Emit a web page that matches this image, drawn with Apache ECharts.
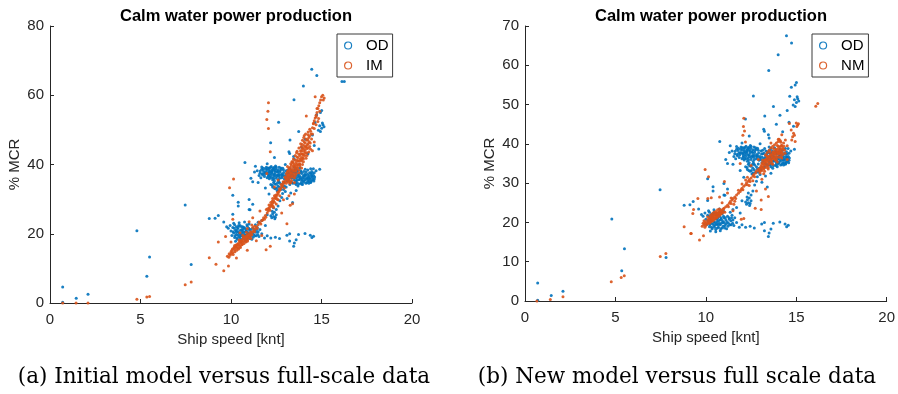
<!DOCTYPE html>
<html>
<head>
<meta charset="utf-8">
<script src="https://cdn.jsdelivr.net/npm/echarts@6/dist/echarts.min.js"></script>
<style>
  html, body { margin: 0; padding: 0; background: #fff; }
  #chart { width: 898px; height: 394px; }
</style>
</head>
<body>
<div id="chart"></div>
<script>
// ---------------- DATA ----------------
const titleText = 'Calm water power production';
const xName = 'Ship speed [knt]';
const yName = '% MCR';
const captions = ['(a) Initial model versus full-scale data', '(b) New model versus full scale data'];
const xTicks = [0, 5, 10, 15, 20];
const yTicksLeft = [0, 20, 40, 60, 80];
const yTicksRight = [0, 10, 20, 30, 40, 50, 60, 70];

// Operational (full-scale) data, same in both panels: [speed knt, %MCR]
const odPoints = [
  [0.7,4.6],[0.7,0.2],[1.45,1.4],[2.1,2.5],[4.8,20.9],[5.35,7.7],[5.5,13.3],[7.47,28.3],[7.8,11.1],
  [8.8,24.4],[9.12,24.5],[9.3,25.3],[9.6,23.4],[10.1,25.6],[10.4,29.1],[10.1,31.1],[10.77,40.6],
  [11.0,29.9],[11.0,27.0],[11.2,28.5],[10.4,28.0],[11.05,26.9],[11.5,23.3],[11.7,23.8],[11.9,22.4],
  [12.0,25.5],[12.6,28.0],[12.8,30.5],[9.76,22.0],
  [14.46,67.5],[14.74,65.7],[14.0,62.7],[13.48,58.7],[16.13,64.0],[16.26,64.0],[12.63,52.2],[12.19,46.3],
  [13.26,47.1],[15.01,55.6],[14.94,55.0],[15.08,51.5],[15.01,50.5],[14.83,49.9],[15.14,50.9],[14.64,52.1],
  [14.73,54.4],[14.9,51.2],[15.05,52.0],[14.5,48.5],[14.85,44.5],[14.6,45.5],[13.9,45.0],[13.5,41.5],
  [13.24,43.2],[13.2,43.7],[13.46,42.3],[14.25,43.1],[14.1,47.3],[13.74,49.5],[12.4,42.0],[14.94,49.5],
  [11.3,37.8],[11.45,38.2],[11.6,37.5],[11.7,38.6],[11.75,37.0],[11.8,38.9],[11.85,36.5],[11.9,37.8],
  [11.95,39.2],[12.0,36.2],[12.0,38.4],[12.05,37.4],[12.1,39.0],[12.12,35.9],[12.15,38.0],[12.2,36.8],
  [12.22,39.4],[12.25,37.6],[12.3,38.6],[12.3,35.6],[12.35,36.4],[12.38,39.1],[12.4,37.2],[12.45,38.2],
  [12.5,36.0],[12.5,39.3],[12.55,37.0],[12.6,38.5],[12.62,35.5],[12.65,36.6],[12.7,37.8],[12.75,39.0],
  [12.8,36.2],[12.82,37.3],[12.9,38.4],[12.95,35.8],[11.55,36.8],[11.65,36.2],[12.08,37.0],[12.28,38.0],
  [12.42,36.8],[12.58,37.8],[12.72,38.3],[12.88,37.0],
  [11.62,38.1],[11.72,37.3],[11.78,38.3],[11.88,37.2],[11.92,38.6],[11.98,37.7],[12.02,39.0],[12.06,36.6],
  [12.12,38.5],[12.18,37.3],[12.18,39.1],[12.24,36.2],[12.26,38.3],[12.32,37.1],[12.34,39.0],[12.36,35.9],
  [12.44,37.7],[12.48,38.8],[12.52,36.5],[12.56,38.0],[12.64,37.2],[12.66,39.2],[12.68,36.0],[12.76,37.0],
  [12.78,38.6],[12.84,36.6],[12.92,37.7],[12.98,36.4],[11.82,37.6],[12.14,36.3],[12.38,38.4],[12.62,36.9],
  [12.86,38.9],[12.1,37.8],[12.46,39.6],[11.7,39.3],
  [12.2,34.2],[12.3,33.5],[12.35,34.8],[12.45,33.0],[12.5,34.3],[12.55,32.4],[12.6,33.8],[12.7,34.6],
  [12.75,32.8],[12.85,33.6],[12.9,34.9],[13.0,32.2],[13.05,33.5],[12.4,35.2],[12.65,35.0],
  [12.28,34.0],[12.42,34.4],[12.52,33.2],[12.58,34.8],[12.68,33.4],[12.8,34.2],[12.95,33.8],[12.62,32.6],
  [12.38,33.2],[12.9,32.8],
  [13.0,36.8],[13.05,38.2],[13.1,35.2],[13.15,37.5],[13.2,36.2],[13.25,38.8],[13.3,35.0],[13.3,37.0],
  [13.35,36.0],[13.4,38.0],[13.42,34.6],[13.45,36.8],[13.5,35.5],[13.55,37.6],[13.6,36.2],[13.6,38.8],
  [13.65,34.8],[13.7,37.0],[13.75,35.6],[13.8,36.6],[13.85,38.2],[13.9,35.2],[13.92,37.4],[13.95,36.0],
  [14.0,34.9],[14.05,36.8],[14.1,35.6],[14.15,37.8],[14.2,36.2],[14.25,35.2],[14.3,36.8],[14.35,35.8],
  [14.4,37.4],[14.45,35.4],[14.5,36.2],[14.55,38.8],[14.6,35.8],[13.5,39.2],[13.8,39.0],[14.1,38.6],
  [14.4,38.8],[13.25,34.2],[13.7,33.8],[13.95,34.2],[14.3,34.6],[13.12,36.6],[13.38,37.4],[13.58,35.2],
  [13.82,35.8],[14.08,37.2],[14.28,35.9],[14.48,36.6],
  [13.05,36.0],[13.08,37.4],[13.14,38.4],[13.18,35.6],[13.22,37.6],[13.28,36.4],[13.32,38.2],[13.36,34.8],
  [13.4,36.6],[13.44,37.8],[13.48,36.2],[13.52,38.4],[13.54,34.6],[13.58,36.8],[13.62,37.6],[13.66,35.6],
  [13.68,38.2],[13.72,36.4],[13.74,34.4],[13.78,37.4],[13.84,36.2],[13.86,34.6],[13.88,37.8],[13.94,35.6],
  [13.98,36.6],[14.02,38.0],[14.04,35.2],[14.06,36.2],[14.12,36.8],[14.14,34.6],[14.18,35.8],[14.22,37.2],
  [14.24,38.4],[14.28,36.4],[14.32,35.2],[14.34,37.6],[14.38,36.2],[14.42,35.0],[14.44,36.8],[14.46,38.0],
  [14.52,35.6],[14.56,36.8],[14.58,35.2],[14.62,36.4],[14.4,34.8],[14.2,34.8],[13.9,34.4],[13.6,34.2],
  [14.5,37.4],[14.6,37.6],
  [11.2,35.0],[11.5,34.8],[11.9,33.2],[12.1,31.5],[12.85,31.6],[13.3,31.8],[13.1,30.2],[12.7,29.5],
  [13.4,29.0],[13.6,32.5],[11.35,39.5],[12.0,40.2],[13.0,40.0],[14.7,38.2],[14.9,38.6],[11.1,36.0],
  [12.2,25.2],[12.25,24.6],[12.3,25.8],[12.35,25.0],[12.4,26.2],[12.45,24.8],[12.5,25.5],[12.28,26.5],
  [12.42,24.3],[12.35,27.5],[12.5,27.0],
  [9.85,21.6],[9.95,22.4],[10.0,20.8],[10.05,19.5],[10.1,21.8],[10.15,20.2],[10.2,22.6],[10.2,18.9],
  [10.25,21.0],[10.3,19.8],[10.3,22.0],[10.35,18.4],[10.4,20.6],[10.4,21.8],[10.45,19.2],[10.5,22.4],
  [10.5,20.0],[10.55,18.2],[10.6,21.2],[10.6,19.6],[10.65,22.0],[10.7,18.8],[10.7,20.4],[10.75,21.6],
  [10.8,19.4],[10.85,20.8],[10.9,18.6],[10.9,22.2],[10.95,20.0],[11.0,21.2],[11.05,19.2],[11.1,20.6],
  [11.15,18.4],[11.2,21.6],[11.25,19.8],[11.3,20.8],[11.35,22.6],[11.4,19.4],[11.5,20.6],[11.6,21.2],
  [11.7,20.0],[10.25,17.8],[10.55,17.6],[10.8,17.9],[10.15,23.0],[10.45,23.2],[10.75,23.4],[11.0,22.8],
  [11.45,21.8],[11.55,19.2],
  [10.12,20.6],[10.18,21.6],[10.22,19.4],[10.28,20.4],[10.32,18.8],[10.36,21.4],[10.38,19.6],[10.42,22.4],
  [10.44,20.2],[10.48,18.8],[10.52,21.0],[10.54,19.4],[10.58,22.0],[10.62,20.2],[10.64,18.6],[10.66,21.2],
  [10.68,19.4],[10.72,21.8],[10.74,19.8],[10.78,20.6],[10.82,18.4],[10.84,21.2],[10.86,19.8],[10.88,22.6],
  [10.92,20.4],[10.96,19.0],[10.98,21.6],[11.02,20.0],[11.04,18.6],[11.08,21.2],[11.12,19.6],[11.18,20.2],
  [11.22,19.0],[11.28,21.2],[11.32,19.4],[11.38,20.4],[11.42,21.2],[11.48,19.8],[10.3,20.8],[10.6,20.8],
  [12.2,18.8],[12.45,19.0],[12.68,18.6],[13.09,19.6],[13.24,17.9],[13.24,20.0],[13.46,16.4],[13.6,18.3],
  [13.73,19.8],[14.09,20.1],[14.38,19.6],[14.47,18.9],[14.56,19.3],[13.5,17.3],[11.85,18.8],[12.0,19.4]
];

// Initial model (IM), left panel
const imPoints = [
  [0.7,0],[1.44,0],[2.1,0],[4.8,1.1],[5.35,1.7],[5.5,1.9],[7.47,5.3],[7.8,6.1],[8.8,13.1],[9.17,11.2],
  [9.6,9.3],[9.86,10.7],[9.3,17.6],[9.92,33.3],[10.14,35.8],[10.1,24.2],[12.07,57.8],[12.04,55.4],
  [11.98,53.0],[12.07,50.4],[12.17,43.7],[11.98,37.4],[11.94,15.4],[12.17,16.4],[13.09,22.9],[13.27,28.2],
  [13.4,28.7],[10.0,17.6],[10.3,13.0],[10.9,15.2],[11.4,18.0],[11.7,19.5],[11.6,26.6],[11.0,23.5],
  [12.8,26.0],[12.9,29.8],[13.5,31.5],[12.6,35.5],[12.4,33.5],[14.5,44.0],[14.6,46.5],[13.2,31.0],
  [10.5,20.3],[11.2,24.6],[9.7,19.2],[10.9,21.5],
  [9.8,13.5],[9.9,14.2],[9.95,13.8],[10.0,14.8],[10.05,15.2],[10.1,14.6],[10.15,15.8],[10.2,15.4],
  [10.25,16.2],[10.3,15.9],[10.3,16.8],[10.35,16.4],[10.4,17.2],[10.45,16.8],[10.5,17.6],[10.5,16.4],
  [10.55,17.3],[10.6,18.0],[10.65,17.6],[10.7,18.4],[10.75,18.0],[10.8,18.8],[10.85,18.4],[10.9,19.2],
  [10.95,18.9],[11.0,19.6],[11.05,19.3],[11.1,20.1],[11.15,19.7],[11.2,20.5],[11.25,21.0],[11.3,20.6],
  [11.35,21.4],[11.4,22.0],[10.6,16.8],[10.4,15.9],[10.2,16.6],[10.7,19.0],[10.9,17.8],[11.1,18.6],
  [11.3,22.2],[11.2,21.8],[11.15,22.5],
  [9.88,13.2],[10.02,14.2],[10.08,15.6],[10.12,14.0],[10.18,16.2],[10.22,14.8],[10.28,16.6],[10.32,15.2],
  [10.38,17.0],[10.42,15.6],[10.48,17.8],[10.52,16.0],[10.58,18.2],[10.62,17.0],[10.68,18.8],[10.72,17.2],
  [10.78,19.2],[10.82,17.6],[10.88,19.6],[10.92,18.2],[10.98,20.0],[11.02,18.8],[11.08,20.6],[10.45,18.2],
  [10.65,19.6],[10.85,20.4],
  [11.5,22.6],[11.6,23.2],[11.65,22.8],[11.7,23.8],[11.8,24.6],[11.85,24.2],[11.9,25.3],[12.0,26.0],
  [12.05,26.6],[12.1,27.2],[12.15,26.8],[12.2,27.9],[12.25,28.4],[12.3,28.9],[12.35,29.5],[12.4,29.1],
  [12.45,30.2],[12.5,30.6],[12.55,31.2],[12.6,31.6],[12.65,32.2],[12.7,32.6],[12.75,33.0],[12.8,33.6],
  [12.85,33.9],[12.9,34.5],[12.95,34.9],[12.3,30.2],[12.4,31.0],[12.2,29.0],[12.5,28.6],[12.6,29.8],
  [12.1,28.3],[12.35,27.6],[12.7,31.0],[11.95,27.0],
  [11.45,21.6],[11.55,23.4],[11.75,24.0],[11.92,24.8],[12.02,27.2],[12.12,27.6],[12.22,28.2],[12.28,29.4],
  [12.42,30.4],[12.48,31.2],[12.58,32.0],[12.68,33.0],[12.78,34.2],[12.88,35.0],[12.32,28.0],[12.55,30.0],
  [13.0,35.2],[13.02,36.0],[13.05,34.6],[13.1,35.8],[13.1,36.8],[13.15,36.4],[13.2,37.2],[13.2,35.4],
  [13.25,37.8],[13.3,36.6],[13.3,38.4],[13.35,37.6],[13.4,38.8],[13.4,36.8],[13.45,39.4],[13.5,38.2],
  [13.5,40.0],[13.55,39.0],[13.6,40.6],[13.6,38.6],[13.65,41.2],[13.7,40.0],[13.7,42.0],[13.75,41.0],
  [13.8,42.6],[13.8,40.2],[13.85,43.2],[13.9,42.0],[13.9,44.0],[13.95,43.0],[14.0,44.6],[14.0,42.8],
  [14.05,45.4],[14.1,44.2],[14.1,46.2],[14.15,45.2],[14.2,47.0],[14.2,44.6],[14.25,46.0],[14.3,47.8],
  [13.2,39.0],[13.3,40.2],[13.45,41.6],[13.55,42.6],[13.65,43.8],[13.75,44.8],[13.85,46.0],[13.95,47.0],
  [14.05,48.4],[13.35,35.4],[13.55,36.8],[13.75,38.4],[13.95,40.0],[14.15,41.8],[14.3,43.6],[14.35,45.2],
  [13.15,38.2],[13.4,40.8],[13.65,39.4],[13.9,41.4],[14.1,43.4],[14.25,48.6],[13.95,45.8],[13.6,37.4],
  [13.8,39.6],[14.0,41.6],[13.25,34.6],[13.5,34.8],[12.95,33.2],[14.4,44.4],[14.45,47.4],
  [12.98,36.4],[13.06,37.4],[13.08,35.6],[13.12,37.9],[13.16,35.0],[13.18,36.9],[13.22,38.6],[13.24,36.0],
  [13.28,39.2],[13.32,37.4],[13.34,39.8],[13.38,36.4],[13.42,38.2],[13.44,40.4],[13.48,37.4],[13.52,39.6],
  [13.54,41.2],[13.58,38.2],[13.62,40.0],[13.64,42.2],[13.68,39.0],[13.72,41.0],[13.74,43.0],[13.78,40.0],
  [13.82,41.6],[13.84,44.0],[13.88,41.0],[13.92,43.0],[13.94,44.6],[13.98,42.0],[14.02,43.8],[14.04,46.6],
  [14.08,42.6],[14.12,45.0],[14.14,47.4],[14.18,43.4],[14.22,45.6],[14.24,47.2],[14.28,44.8],[14.32,46.6],
  [14.34,48.2],[14.38,46.2],[14.12,48.8],[13.88,45.2],[13.62,43.4],[13.36,40.8],[13.12,39.4],[13.5,36.2],
  [13.75,37.6],[14.0,40.8],[14.2,42.6],[13.3,34.8],[13.9,39.0],[14.42,48.8],[14.26,49.4],[14.02,47.8],
  [14.4,49.6],[14.5,50.6],[14.55,51.8],[14.6,52.6],[14.65,53.4],[14.7,54.2],[14.75,55.0],[14.8,56.2],
  [14.85,57.0],[14.9,57.8],[14.95,58.6],[15.0,59.6],[15.07,60.0],[15.1,58.6],[15.15,59.2],[14.65,59.6],
  [14.75,56.2],[14.71,53.8],[14.84,53.3],[14.16,54.0],[14.56,51.9],[14.5,48.8],[14.6,50.4],[14.7,51.5],
  [14.8,52.4],[14.35,50.2],[14.9,55.4]
];

// New model (NM), right panel
const nmPoints = [
  [0.66,0],[1.4,0.4],[2.1,1.1],[4.77,4.9],[5.32,6.0],[5.49,6.4],[7.48,11.3],[7.79,12.1],
  [9.8,19.0],[9.9,19.4],[9.95,19.8],[10.0,20.2],[10.05,19.6],[10.1,20.6],[10.15,20.2],[10.2,21.0],
  [10.25,20.6],[10.3,21.4],[10.3,20.2],[10.35,21.0],[10.4,21.8],[10.45,21.2],[10.5,22.0],[10.5,20.8],
  [10.55,21.6],[10.6,22.4],[10.65,21.8],[10.7,22.6],[10.75,22.2],[10.8,23.0],[10.85,22.4],[10.9,23.2],
  [10.95,22.8],[11.0,23.6],[10.4,20.4],[10.6,21.2],[10.8,22.0],[10.2,19.8],[10.1,21.4],[10.35,22.2],
  [10.55,22.8],[10.75,23.4],[11.05,22.6],[10.0,19.2],[9.9,20.4],
  [10.12,19.8],[10.18,20.8],[10.22,20.2],[10.28,21.2],[10.32,20.6],[10.38,21.6],[10.42,20.8],[10.48,21.8],
  [10.52,21.2],[10.58,22.2],[10.62,21.4],[10.68,22.4],[10.72,21.6],[10.78,22.8],[10.82,22.2],[10.88,23.0],
  [10.92,22.4],[10.98,23.4],[10.45,22.6],[10.25,21.8],[10.65,23.2],[9.85,19.8],[9.95,18.8],
  [11.1,24.0],[11.2,24.4],[11.25,24.0],[11.3,24.9],[11.35,25.3],[11.4,24.8],[11.45,25.7],[11.5,26.1],
  [11.6,26.5],[11.65,26.1],[11.7,27.0],[11.8,27.4],[11.9,27.9],[11.95,28.3],[12.0,28.7],[12.05,28.3],
  [12.1,29.2],[12.2,29.6],[12.25,30.1],[12.3,29.6],[12.35,30.5],[12.4,30.9],[12.45,30.4],[12.5,31.3],
  [12.6,31.8],[12.65,32.2],[12.7,31.6],[12.75,32.6],[12.8,33.0],[12.9,33.5],[12.95,33.1],[11.4,26.2],
  [11.6,25.4],[12.2,30.8],[12.4,29.4],[12.0,29.8],[11.8,28.2],[12.6,30.6],[12.3,31.5],[11.55,24.6],
  [13.0,33.8],[13.05,34.3],[13.1,33.2],[13.1,34.8],[13.15,34.2],[13.2,35.0],[13.2,33.6],[13.25,35.4],
  [13.3,34.6],[13.3,36.0],[13.35,35.2],[13.4,36.4],[13.4,34.4],[13.45,35.8],[13.5,36.8],[13.5,35.2],
  [13.55,36.2],[13.6,37.2],[13.6,35.8],[13.65,36.8],[13.7,37.6],[13.7,36.2],[13.75,37.2],[13.8,38.0],
  [13.8,36.6],[13.85,37.6],[13.9,38.4],[13.9,37.0],[13.95,38.0],[14.0,38.8],[14.0,37.4],[14.05,38.2],
  [14.1,39.2],[14.1,37.8],[14.15,38.6],[14.2,39.6],[14.2,38.0],[14.25,39.0],[13.15,35.8],[13.35,37.0],
  [13.55,38.0],[13.75,38.8],[13.95,39.6],[14.15,40.4],[13.25,33.0],[13.45,34.0],[13.65,35.0],[13.85,35.8],
  [14.05,36.6],[14.25,37.2],[13.4,37.8],[13.6,39.0],[13.8,39.8],[14.0,40.6],[14.3,40.2],[14.35,38.4],
  [13.2,32.4],[13.0,32.6],[13.9,36.0],[14.15,36.8],
  [13.02,33.2],[13.08,34.0],[13.12,35.2],[13.18,33.8],[13.22,34.6],[13.28,35.8],[13.32,34.0],[13.38,35.6],
  [13.42,36.8],[13.48,34.8],[13.52,36.0],[13.58,37.2],[13.62,35.6],[13.68,36.6],[13.72,38.0],[13.78,36.2],
  [13.82,37.4],[13.88,38.6],[13.92,36.6],[13.98,37.8],[14.02,39.4],[14.08,37.4],[14.12,38.4],[14.18,39.6],
  [14.22,37.6],[14.28,38.6],[14.32,39.4],[14.12,40.8],[13.9,40.2],[13.7,39.4],[13.5,38.4],[13.3,37.2],
  [13.45,33.6],[13.7,34.8],[13.95,35.4],[14.2,36.4],[14.38,37.6],[13.6,40.2],[14.05,41.2],
  [14.62,45.2],[15.08,44.8],[15.0,45.3],[14.72,43.5],[14.85,42.7],[14.8,41.8],[14.9,42.2],[14.94,40.6],
  [14.75,41.0],[15.03,44.4],[15.12,45.1],[16.08,49.6],[16.19,50.3],[14.2,42.3],[14.01,41.2],[14.4,41.0],
  [14.5,39.5],[12.08,44.4],[12.14,43.3],[12.05,42.2],[12.19,40.5],[12.1,46.5],[11.9,35.0],[11.03,30.4],
  [10.15,31.6],[9.96,33.5],[10.11,26.1],[9.56,26.1],[9.28,22.3],[10.3,26.3],[10.76,26.5],[9.19,17.2],
  [9.65,15.5],[9.87,16.6],[9.32,23.3],[8.8,18.9],[9.17,17.2],[13.06,25.7],[13.06,23.3],[11.96,20.8],
  [12.1,21.0],[12.73,23.6],[13.46,26.6],[13.3,28.5],[12.8,28.0],[11.5,23.0],[11.2,27.5],[10.9,25.0],
  [12.5,34.5],[12.9,36.0],[13.1,31.0],[14.5,36.0]
];

// ---------------- STYLE ----------------
const BLUE = '#0072BD';
const ORANGE = '#D95319';
const AX = '#262626';
const FONT = '"Liberation Sans", Arial, Helvetica, sans-serif';

function makeX(gridIndex) {
  return {
    type: 'value', gridIndex: gridIndex,
    min: xTicks[0], max: xTicks[xTicks.length - 1], interval: xTicks[1] - xTicks[0],
    name: xName, nameLocation: 'middle', nameGap: 27,
    nameTextStyle: { color: AX, fontSize: 15, fontFamily: FONT },
    axisLine: { show: true, onZero: false, lineStyle: { color: AX, width: 1 } },
    axisTick: { show: true, inside: true, length: 4, lineStyle: { color: AX } },
    axisLabel: { color: AX, fontSize: 15, fontFamily: FONT, margin: 9 },
    splitLine: { show: false }
  };
}
function makeY(gridIndex, ticks) {
  return {
    type: 'value', gridIndex: gridIndex,
    min: ticks[0], max: ticks[ticks.length - 1], interval: ticks[1] - ticks[0],
    name: yName, nameLocation: 'middle', nameGap: 28, nameRotate: 90,
    nameTextStyle: { color: AX, fontSize: 15, fontFamily: FONT },
    axisLine: { show: true, onZero: false, lineStyle: { color: AX, width: 1 } },
    axisTick: { show: true, inside: true, length: 4, lineStyle: { color: AX } },
    axisLabel: { color: AX, fontSize: 15, fontFamily: FONT, margin: 6 },
    splitLine: { show: false }
  };
}
function scatter(name, data, color, idx, z) {
  return {
    type: 'scatter', name: name, data: data,
    xAxisIndex: idx, yAxisIndex: idx,
    symbol: 'circle', symbolSize: 3, z: z,
    itemStyle: { color: color, opacity: 0.9 },
    emphasis: { disabled: true }, silent: true
  };
}
function legendItem(name, color) {
  return { name: name, icon: 'circle',
    itemStyle: { color: 'rgba(255,255,255,0)', borderColor: color, borderWidth: 1.2 } };
}
function makeLegend(left, names) {
  return {
    orient: 'vertical', left: left, top: 34,
    backgroundColor: '#fff', borderColor: '#3a3a3a', borderWidth: 1,
    padding: [4, 4, 4, 7], itemWidth: 26, itemHeight: 7, itemGap: 5,
    selectedMode: false,
    textStyle: { color: '#000', fontSize: 15, fontFamily: FONT, lineHeight: 15 },
    data: [legendItem(names[0], BLUE), legendItem(names[1], ORANGE)]
  };
}

const chart = echarts.init(document.getElementById('chart'), null, { renderer: 'canvas' });
chart.setOption({
  animation: false,
  backgroundColor: '#fff',
  title: [
    { text: titleText, left: 231, top: 3, textAlign: 'center',
      textStyle: { fontSize: 16.5, fontWeight: 'bold', color: '#000', fontFamily: FONT } },
    { text: titleText, left: 706, top: 3, textAlign: 'center',
      textStyle: { fontSize: 16.5, fontWeight: 'bold', color: '#000', fontFamily: FONT } }
  ],
  grid: [
    { left: 50, top: 26, width: 362, height: 277, containLabel: false },
    { left: 525, top: 26, width: 362, height: 275, containLabel: false }
  ],
  xAxis: [makeX(0), makeX(1)],
  yAxis: [makeY(0, yTicksLeft), makeY(1, yTicksRight)],
  legend: [makeLegend(337, ['OD', 'IM']), makeLegend(812, ['OD', 'NM'])],
  series: [
    scatter('OD', odPoints, BLUE, 0, 2),
    scatter('IM', imPoints, ORANGE, 0, 3),
    scatter('OD', odPoints, BLUE, 1, 2),
    scatter('NM', nmPoints, ORANGE, 1, 3)
  ],
  graphic: [
    { type: 'text', x: 224, y: 377,
      style: { text: captions[0], fill: '#000', font: '21.5px "DejaVu Serif", serif',
               align: 'center', verticalAlign: 'middle' } },
    { type: 'text', x: 677, y: 377,
      style: { text: captions[1], fill: '#000', font: '21.5px "DejaVu Serif", serif',
               align: 'center', verticalAlign: 'middle' } }
  ]
});
</script>
</body>
</html>
